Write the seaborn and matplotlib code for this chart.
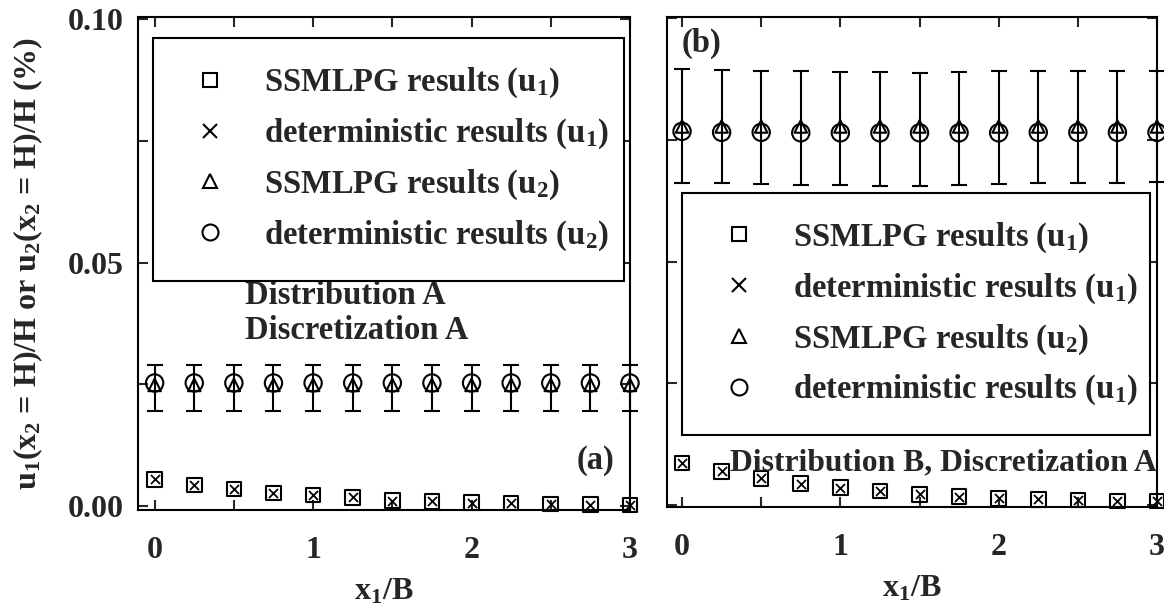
import matplotlib
matplotlib.use("Agg")
import matplotlib.pyplot as plt
from matplotlib.lines import Line2D
from matplotlib.ticker import MultipleLocator, FuncFormatter
import seaborn as sns
import pandas as pd

# ---------------- data ----------------
x_over_B = [0.0, 0.25, 0.5, 0.75, 1.0, 1.25, 1.5, 1.75, 2.0, 2.25, 2.5, 2.75, 3.0]

# panel (a): Distribution A, Discretization A
u1_ssmlpg_a = [0.0055, 0.0043, 0.0035, 0.0027, 0.0023, 0.0018, 0.0011, 0.0010, 0.0007, 0.0006, 0.0004, 0.0003, 0.0002]
u1_det_a    = [0.0055, 0.0043, 0.0035, 0.0027, 0.0023, 0.0018, 0.0011, 0.0010, 0.0007, 0.0006, 0.0004, 0.0003, 0.0002]
u2_ssmlpg_a = [0.0249] * 13
u2_det_a    = [0.0253] * 13
u2_upper_a  = [0.0290] * 13
u2_lower_a  = [0.0195] * 13

# panel (b): Distribution B, Discretization A
u1_ssmlpg_b = [0.0086, 0.0069, 0.0055, 0.0044, 0.0036, 0.0029, 0.0022, 0.0017, 0.0014, 0.0012, 0.0010, 0.0008, 0.0008]
u1_det_b    = [0.0086, 0.0069, 0.0055, 0.0044, 0.0036, 0.0029, 0.0022, 0.0017, 0.0014, 0.0012, 0.0010, 0.0008, 0.0008]
u2_ssmlpg_b = [0.0778] * 13
u2_det_b    = [0.0768, 0.0766, 0.0766, 0.0765, 0.0765, 0.0765, 0.0765, 0.0765, 0.0765, 0.0766, 0.0766, 0.0766, 0.0766]
u2_upper_b  = [0.0897, 0.0894, 0.0893, 0.0891, 0.0890, 0.0889, 0.0888, 0.0890, 0.0891, 0.0891, 0.0892, 0.0892, 0.0893]
u2_lower_b  = [0.0662, 0.0661, 0.0659, 0.0657, 0.0657, 0.0656, 0.0656, 0.0658, 0.0660, 0.0661, 0.0662, 0.0662, 0.0663]

labels_a = [r"SSMLPG results (u$_1$)", r"deterministic results (u$_1$)",
            r"SSMLPG results (u$_2$)", r"deterministic results (u$_2$)"]
labels_b = [r"SSMLPG results (u$_1$)", r"deterministic results (u$_1$)",
            r"SSMLPG results (u$_2$)", r"deterministic results (u$_1$)"]
ylabel_text = r"u$_1$(x$_2$ = H)/H or u$_2$(x$_2$ = H)/H (%)"
xlabel_text = r"x$_1$/B"

# ---------------- style ----------------
sns.set_style("ticks")
plt.rcParams["font.family"] = ["Liberation Serif", "DejaVu Serif"]
plt.rcParams["font.weight"] = "bold"
plt.rcParams["mathtext.fontset"] = "custom"
plt.rcParams["mathtext.rm"] = "Liberation Serif:bold"
plt.rcParams["mathtext.it"] = "Liberation Serif:bold"
plt.rcParams["mathtext.bf"] = "Liberation Serif:bold"
plt.rcParams["mathtext.default"] = "rm"
FS = 23.5      # legend / annotation text
FS_TICK = 23
FS_LAB = 23

fig = plt.figure(figsize=(11.64, 6.10), dpi=100)
axA = fig.add_axes([0.11856, 0.16393, 0.42268, 0.80820])
axB = fig.add_axes([0.57302, 0.16885, 0.42096, 0.80328])

MS_SQ, MS_X, MS_TRI, MS_CIR = 10.5, 6.5, 9, 12.5
LW = 1.5


def draw_panel(ax, u1s, u1d, u2s, u2d, up, lo):
    df = pd.DataFrame({"x": x_over_B, "u1s": u1s, "u1d": u1d, "u2s": u2s, "u2d": u2d})
    yerr = [[m - l for m, l in zip(u2s, lo)], [u - m for m, u in zip(u2s, up)]]
    ax.errorbar(x_over_B, u2s, yerr=yerr, fmt="none", ecolor="black",
                elinewidth=LW, capsize=6, capthick=LW, zorder=2, clip_on=False)
    sns.scatterplot(data=df, x="x", y="u1s", ax=ax, marker="s", s=MS_SQ**2,
                    facecolors="none", edgecolors="black", linewidth=LW, zorder=3, clip_on=False)
    sns.scatterplot(data=df, x="x", y="u1d", ax=ax, marker="x", s=MS_X**2,
                    color="black", linewidth=1.3, zorder=4, clip_on=False)
    sns.scatterplot(data=df, x="x", y="u2s", ax=ax, marker="^", s=MS_TRI**2,
                    facecolors="none", edgecolors="black", linewidth=LW, zorder=3, clip_on=False)
    sns.scatterplot(data=df, x="x", y="u2d", ax=ax, marker="o", s=MS_CIR**2,
                    facecolors="none", edgecolors="black", linewidth=LW, zorder=3, clip_on=False)
    ax.set_xlim(-0.105, 3.0)
    ax.xaxis.set_major_locator(MultipleLocator(0.5))
    ax.xaxis.set_major_formatter(FuncFormatter(lambda v, p: f"{int(round(v))}" if abs(v - round(v)) < 1e-6 else ""))
    ax.tick_params(direction="in", length=7, width=LW, top=True, right=True,
                   labelsize=FS_TICK)
    ax.tick_params(axis="x", pad=19)
    ax.tick_params(axis="y", pad=10)
    for s in ax.spines.values():
        s.set_linewidth(LW)
        s.set_color("black")
    ax.set_xlabel(xlabel_text, fontsize=FS_LAB, fontweight="bold", labelpad=8)
    ax.set_ylabel("")


def legend_handles(labels):
    return [
        Line2D([], [], linestyle="", marker="s", ms=MS_SQ, mfc="none", mec="black", mew=LW, label=labels[0]),
        Line2D([], [], linestyle="", marker="x", ms=MS_SQ, mec="black", mew=LW, label=labels[1]),
        Line2D([], [], linestyle="", marker="^", ms=MS_SQ, mfc="none", mec="black", mew=LW, label=labels[2]),
        Line2D([], [], linestyle="", marker="o", ms=MS_SQ + 1, mfc="none", mec="black", mew=LW, label=labels[3]),
    ]


def add_legend(ax, labels, x0, top, w):
    leg = ax.legend(handles=legend_handles(labels), loc="upper left",
                    bbox_to_anchor=(x0, top - 0.5, w, 0.5), mode="expand",
                    borderaxespad=0, frameon=True, fancybox=False, framealpha=1,
                    edgecolor="black", fontsize=FS, borderpad=0.85,
                    handlelength=1.8, handletextpad=0.75, labelspacing=0.5,
                    numpoints=1)
    leg.get_frame().set_linewidth(LW)
    return leg


draw_panel(axA, u1_ssmlpg_a, u1_det_a, u2_ssmlpg_a, u2_det_a, u2_upper_a, u2_lower_a)
axA.set_ylim(-0.0008, 0.1005)
axA.set_yticks([0.0, 0.025, 0.05, 0.075, 0.10])
axA.set_yticklabels(["0.00", "", "0.05", "", "0.10"])
add_legend(axA, labels_a, 0.0305, 0.957, 0.957)
axA.text(0.2175, 0.40, "Distribution A\nDiscretization A", transform=axA.transAxes,
         ha="left", va="center", fontsize=FS, fontweight="bold", linespacing=1.15)
axA.text(0.929, 0.10, "(a)", transform=axA.transAxes, ha="center", va="center",
         fontsize=FS, fontweight="bold")
axA.set_ylabel(ylabel_text, fontsize=FS_LAB, fontweight="bold")
axA.yaxis.set_label_coords(-0.19, 0.5)

draw_panel(axB, u1_ssmlpg_b, u1_det_b, u2_ssmlpg_b, u2_det_b, u2_upper_b, u2_lower_b)
axB.set_xlim(-0.095, 3.0)
axB.set_ylim(-0.0004, 0.1003)
axB.set_yticks([0.0, 0.025, 0.05, 0.075, 0.10])
axB.set_yticklabels([])
add_legend(axB, labels_b, 0.0306, 0.641, 0.955)
axB.text(0.0306, 0.947, "(b)", transform=axB.transAxes, ha="left", va="center",
         fontsize=FS, fontweight="bold")
axB.text(0.1286, 0.09, "Distribution B, Discretization A", transform=axB.transAxes,
         ha="left", va="center", fontsize=22.8, fontweight="bold", clip_on=False)

fig.savefig("out.png", dpi=100)
